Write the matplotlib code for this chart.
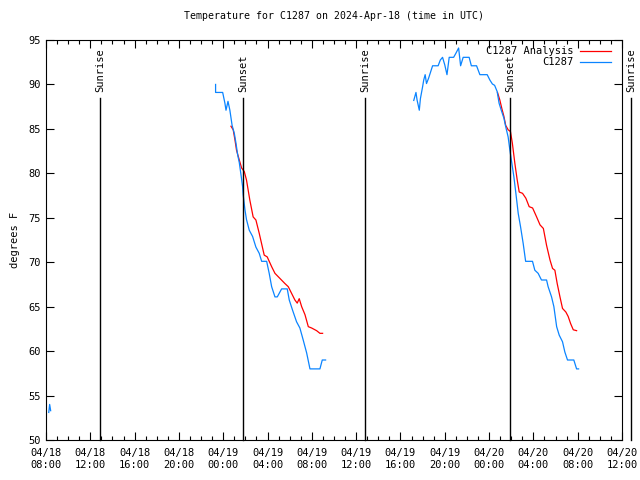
"""Temperature for C1287: observations vs analysis with sunrise/sunset markers."""

from datetime import datetime, timedelta

import matplotlib

matplotlib.use("Agg")
import matplotlib.dates as mdates
import matplotlib.pyplot as plt


START = datetime(2024, 4, 18, 8, 0)
END = datetime(2024, 4, 20, 12, 0)

# hours after 04/18 08:00 UTC, degrees F
obs_hours_1 = [0.25, 0.33, 0.42]
obs_temps_1 = [53.1, 54.0, 53.3]

obs_hours_2 = [15.31, 15.31, 15.95, 16.15, 16.25, 16.43, 16.6, 16.8, 17.0, 17.15,
               17.3, 17.45, 17.63, 17.75, 17.8, 17.96, 18.1, 18.35, 18.65, 18.95,
               19.25, 19.47, 19.92, 20.15, 20.37, 20.67, 20.88, 21.27, 21.78, 21.96,
               22.26, 22.62, 22.92, 23.22, 23.53, 23.83, 24.73, 24.94, 25.24]
obs_temps_2 = [90.0, 89.1, 89.1, 87.9, 87.1, 88.1, 87.1, 85.4, 84.5, 83.4,
               82.1, 81.2, 79.6, 78.5, 77.6, 75.9, 74.8, 73.6, 72.9, 71.7,
               71.0, 70.1, 70.1, 68.75, 67.25, 66.1, 66.1, 67.0, 67.0, 65.75,
               64.6, 63.3, 62.6, 61.25, 59.8, 58.0, 58.0, 59.0, 59.0]

obs_hours_3 = [33.2, 33.4, 33.5, 33.7, 33.8, 34.0, 34.1, 34.23, 34.35, 34.54,
               34.72, 34.9, 35.4, 35.6, 35.8, 36.0, 36.2, 36.4, 36.8, 37.0,
               37.25, 37.43, 37.66, 38.2, 38.4, 38.87, 39.17, 39.83, 40.07, 40.3,
               40.5, 40.73, 40.9, 41.1, 41.34, 41.5, 41.72, 41.88, 42.06, 42.24,
               42.42, 42.63, 42.84, 43.08, 43.3, 43.92, 44.13, 44.43, 44.73, 45.19,
               45.33, 45.64, 45.85, 46.1, 46.33, 46.63, 46.84, 47.08, 47.65, 47.9,
               48.08]
obs_temps_3 = [88.2, 89.1, 88.25, 87.1, 88.4, 89.75, 90.5, 91.1, 90.1, 90.7,
               91.4, 92.1, 92.1, 92.75, 93.05, 92.2, 91.1, 93.05, 93.05, 93.5,
               94.1, 92.1, 93.05, 93.05, 92.1, 92.1, 91.1, 91.1, 90.5, 90.05,
               89.9, 89.2, 87.9, 87.1, 86.2, 85.25, 84.1, 82.6, 81.1, 79.6,
               77.75, 75.5, 74.0, 72.1, 70.1, 70.1, 69.1, 68.75, 68.0, 68.0,
               67.25, 66.1, 65.0, 62.75, 61.8, 61.05, 59.9, 59.0, 59.0, 58.0,
               58.0]

ana_hours_1 = [16.7, 16.9, 17.06, 17.2, 17.45, 17.66, 17.9, 18.1, 18.4, 18.7,
               18.95, 19.25, 19.7, 19.97, 20.37, 20.67, 21.1, 21.57, 21.87, 22.17,
               22.47, 22.68, 22.86, 23.08, 23.38, 23.68, 23.98, 24.43, 24.73, 24.97]
ana_temps_1 = [85.3, 84.9, 83.75, 82.6, 81.5, 80.6, 80.2, 79.25, 77.0, 75.1,
               74.75, 73.25, 70.8, 70.6, 69.5, 68.75, 68.2, 67.6, 67.25, 66.5,
               65.75, 65.4, 65.9, 65.0, 64.1, 62.75, 62.6, 62.3, 62.0, 62.0]

ana_hours_2 = [40.76, 40.97, 41.15, 41.34, 41.5, 41.72, 41.93, 42.1, 42.33, 42.54,
               42.72, 43.02, 43.32, 43.62, 43.93, 44.29, 44.6, 44.9, 45.19, 45.5,
               45.73, 45.94, 46.15, 46.4, 46.63, 46.93, 47.14, 47.36, 47.6, 47.9]
ana_temps_2 = [89.1, 88.25, 87.3, 86.4, 85.4, 84.9, 84.7, 83.4, 81.1, 79.25,
               77.9, 77.75, 77.2, 76.25, 76.1, 75.1, 74.2, 73.8, 71.9, 70.25,
               69.3, 69.1, 67.6, 66.1, 64.8, 64.4, 63.9, 63.1, 62.4, 62.3]

sun_labels = ["Sunrise", "Sunset", "Sunrise", "Sunset", "Sunrise"]
sun_times = ["2024-04-18 12:52", "2024-04-19 01:47", "2024-04-19 12:47",
             "2024-04-20 01:53", "2024-04-20 12:48"]

OBS_COLOR = "#0a84ff"
ANA_COLOR = "#ff0000"
FONT = "DejaVu Sans Mono"


def to_times(hours):
    return [START + timedelta(hours=h) for h in hours]


plt.rcParams["font.family"] = FONT
plt.rcParams["font.size"] = 7.5

fig = plt.figure(figsize=(6.4, 4.8), dpi=100)
ax = fig.add_axes([46 / 640, 40 / 480, 576 / 640, 400 / 480])

# analysis first so obs legend entry sits below
ax.plot(to_times(ana_hours_1), ana_temps_1, color=ANA_COLOR, lw=0.9, label="C1287 Analysis")
ax.plot(to_times(ana_hours_2), ana_temps_2, color=ANA_COLOR, lw=0.9)
ax.plot(to_times(obs_hours_1), obs_temps_1, color=OBS_COLOR, lw=0.9, label="C1287")
ax.plot(to_times(obs_hours_2), obs_temps_2, color=OBS_COLOR, lw=0.9)
ax.plot(to_times(obs_hours_3), obs_temps_3, color=OBS_COLOR, lw=0.9)

for label, stamp in zip(sun_labels, sun_times):
    t = datetime.strptime(stamp, "%Y-%m-%d %H:%M")
    ax.plot([t, t], [50, 88.5], color="black", lw=1.0, clip_on=False)
    ax.text(t, 89.2, label, rotation=90, ha="center", va="bottom",
            fontsize=7.5, clip_on=False)

ax.set_xlim(START, END)
ax.set_ylim(50, 95)
ax.set_yticks(range(50, 96, 5))
ax.xaxis.set_major_locator(mdates.HourLocator(byhour=range(0, 24, 4)))
ax.xaxis.set_minor_locator(mdates.HourLocator())
ax.xaxis.set_major_formatter(mdates.DateFormatter("%m/%d\n%H:%M"))
ax.tick_params(which="both", direction="in", top=True, right=True, width=0.8)
ax.tick_params(which="major", length=6, pad=6)
ax.tick_params(which="minor", length=3)
ax.tick_params(axis="y", pad=4)
for spine in ax.spines.values():
    spine.set_linewidth(0.8)

ax.set_title("Temperature for C1287 on 2024-Apr-18 (time in UTC)", fontsize=7.1, pad=15)
ax.set_ylabel("degrees F", labelpad=6)

ax.legend(loc="upper right", frameon=False, markerfirst=False, handlelength=3.0,
          borderaxespad=0.2, labelspacing=0.1, handletextpad=0.6,
          bbox_to_anchor=(0.992, 1.0))

fig.savefig("out.png", dpi=100)
